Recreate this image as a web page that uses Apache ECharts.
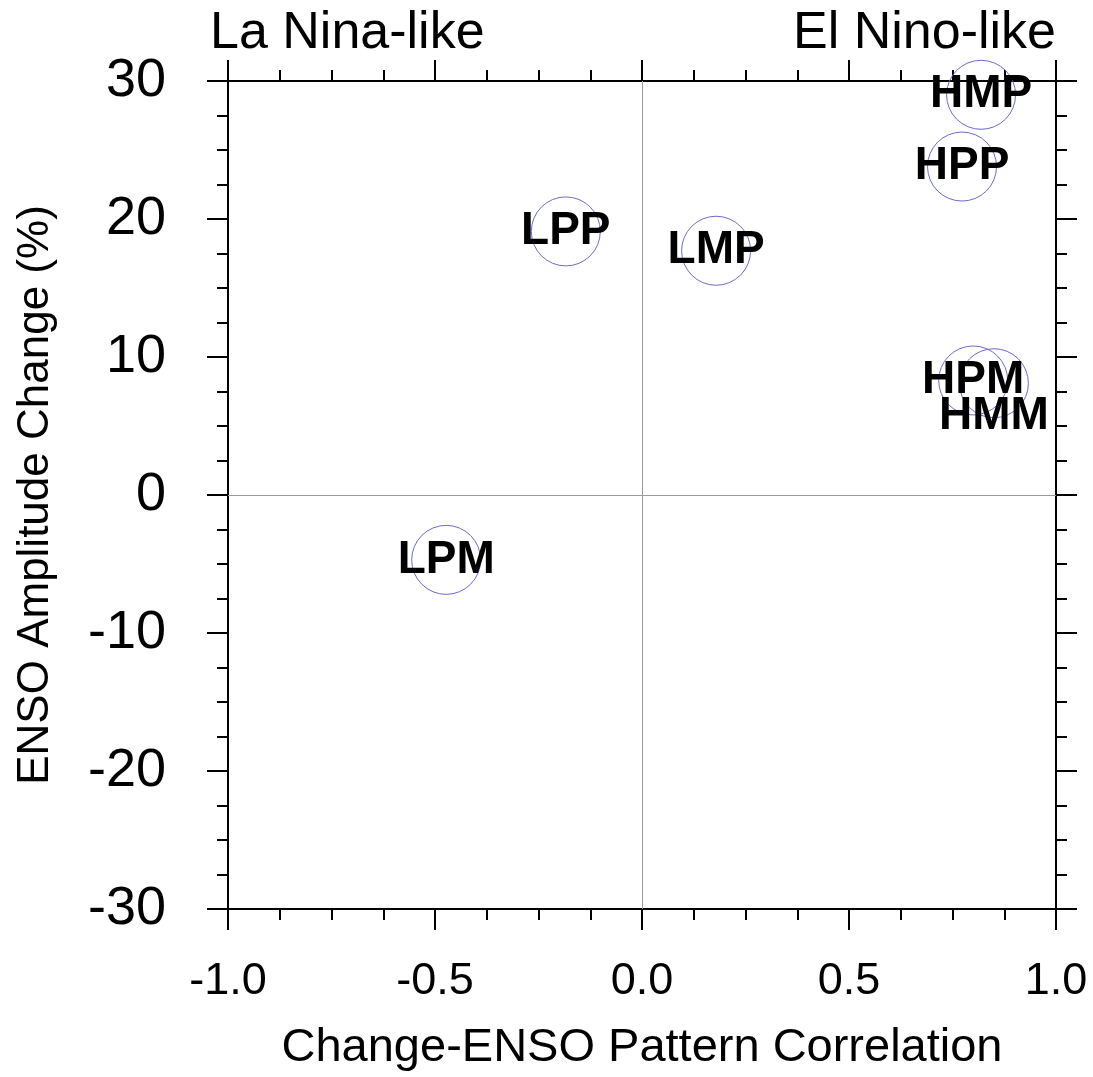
<!DOCTYPE html>
<html>
<head>
<meta charset="utf-8">
<script src="https://cdn.jsdelivr.net/npm/echarts@6/dist/echarts.min.js"></script>
<style>
  html, body { margin: 0; padding: 0; background: #fff; }
  #chart { width: 1093px; height: 1077px; }
</style>
</head>
<body>
<div id="chart"></div>
<script>
// experiment labels and their values
var names = ['HMP', 'HPP', 'LPP', 'LMP', 'HPM', 'HMM', 'LPM']
var corr = [0.819, 0.773, -0.184, 0.179, 0.800, 0.850, -0.473]
var amp = [29.0, 23.8, 19.1, 17.7, 8.3, 8.1, -4.7]
var zeroLines = [0]

var FONT = '"Liberation Sans", Arial, Helvetica, sans-serif'

var chart = echarts.init(document.getElementById('chart'))

function frameAxis(showLabel) {
  return {
    axisLine: { show: true, onZero: false, lineStyle: { color: '#000', width: 2 } },
    axisTick: { show: true, inside: false, length: 21, lineStyle: { color: '#000', width: 2 } },
    minorTick: { show: true, splitNumber: 4, length: 11, lineStyle: { color: '#000', width: 2 } },
    splitLine: { show: false },
    axisLabel: { show: showLabel, color: '#000', fontFamily: FONT }
  }
}

var xBottom = Object.assign(frameAxis(true), {
  type: 'value', position: 'bottom', min: -1, max: 1, interval: 0.5,
  name: 'Change-ENSO Pattern Correlation',
  nameLocation: 'middle', nameGap: 116,
  nameTextStyle: { color: '#000', fontSize: 47, fontFamily: FONT }
})
xBottom.axisLabel.fontSize = 45
xBottom.axisLabel.margin = 50
xBottom.axisLabel.formatter = function(v) { return v.toFixed(1) }

var xTop = Object.assign(frameAxis(false), {
  type: 'value', position: 'top', min: -1, max: 1, interval: 0.5
})

var yLeft = Object.assign(frameAxis(true), {
  type: 'value', position: 'left', min: -30, max: 30, interval: 10,
  name: 'ENSO Amplitude Change (%)',
  nameLocation: 'middle', nameGap: 170,
  nameTextStyle: { color: '#000', fontSize: 44, fontFamily: FONT }
})
yLeft.axisLabel.fontSize = 54
yLeft.axisLabel.margin = 62

var yRight = Object.assign(frameAxis(false), {
  type: 'value', position: 'right', min: -30, max: 30, interval: 10
})

var points = names.map(function(n, i) {
  var d = { name: n, value: [corr[i], amp[i]] }
  if (n === 'HMM') d.label = { offset: [0, 33] }
  return d
})

chart.setOption({
  backgroundColor: '#fff',
  animation: false,
  grid: { left: 228, right: 37, top: 81, bottom: 168 },
  title: [{
    text: 'La Nina-like', left: 205, top: 3,
    textStyle: { color: '#000', fontSize: 52, fontWeight: 'normal', fontFamily: FONT }
  }, {
    text: 'El Nino-like', right: 32, top: 3,
    textStyle: { color: '#000', fontSize: 52, fontWeight: 'normal', fontFamily: FONT }
  }],
  xAxis: [xBottom, xTop],
  yAxis: [yLeft, yRight],
  series: [{
    type: 'scatter',
    xAxisIndex: 0,
    yAxisIndex: 0,
    symbol: 'circle',
    symbolSize: 69,
    itemStyle: { color: 'rgba(0,0,0,0)', borderColor: '#6a6ad2', borderWidth: 1, opacity: 1 },
    label: {
      show: true, position: 'inside', formatter: '{b}',
      color: '#000', fontSize: 46, fontWeight: 'bold', fontFamily: FONT
    },
    emphasis: { disabled: true },
    data: points,
    markLine: {
      silent: true,
      symbol: 'none',
      label: { show: false },
      lineStyle: { color: '#9a9a9a', width: 1, type: 'solid' },
      data: zeroLines.map(function(v) { return { xAxis: v } })
        .concat(zeroLines.map(function(v) { return { yAxis: v } }))
    }
  }]
})
</script>
</body>
</html>
